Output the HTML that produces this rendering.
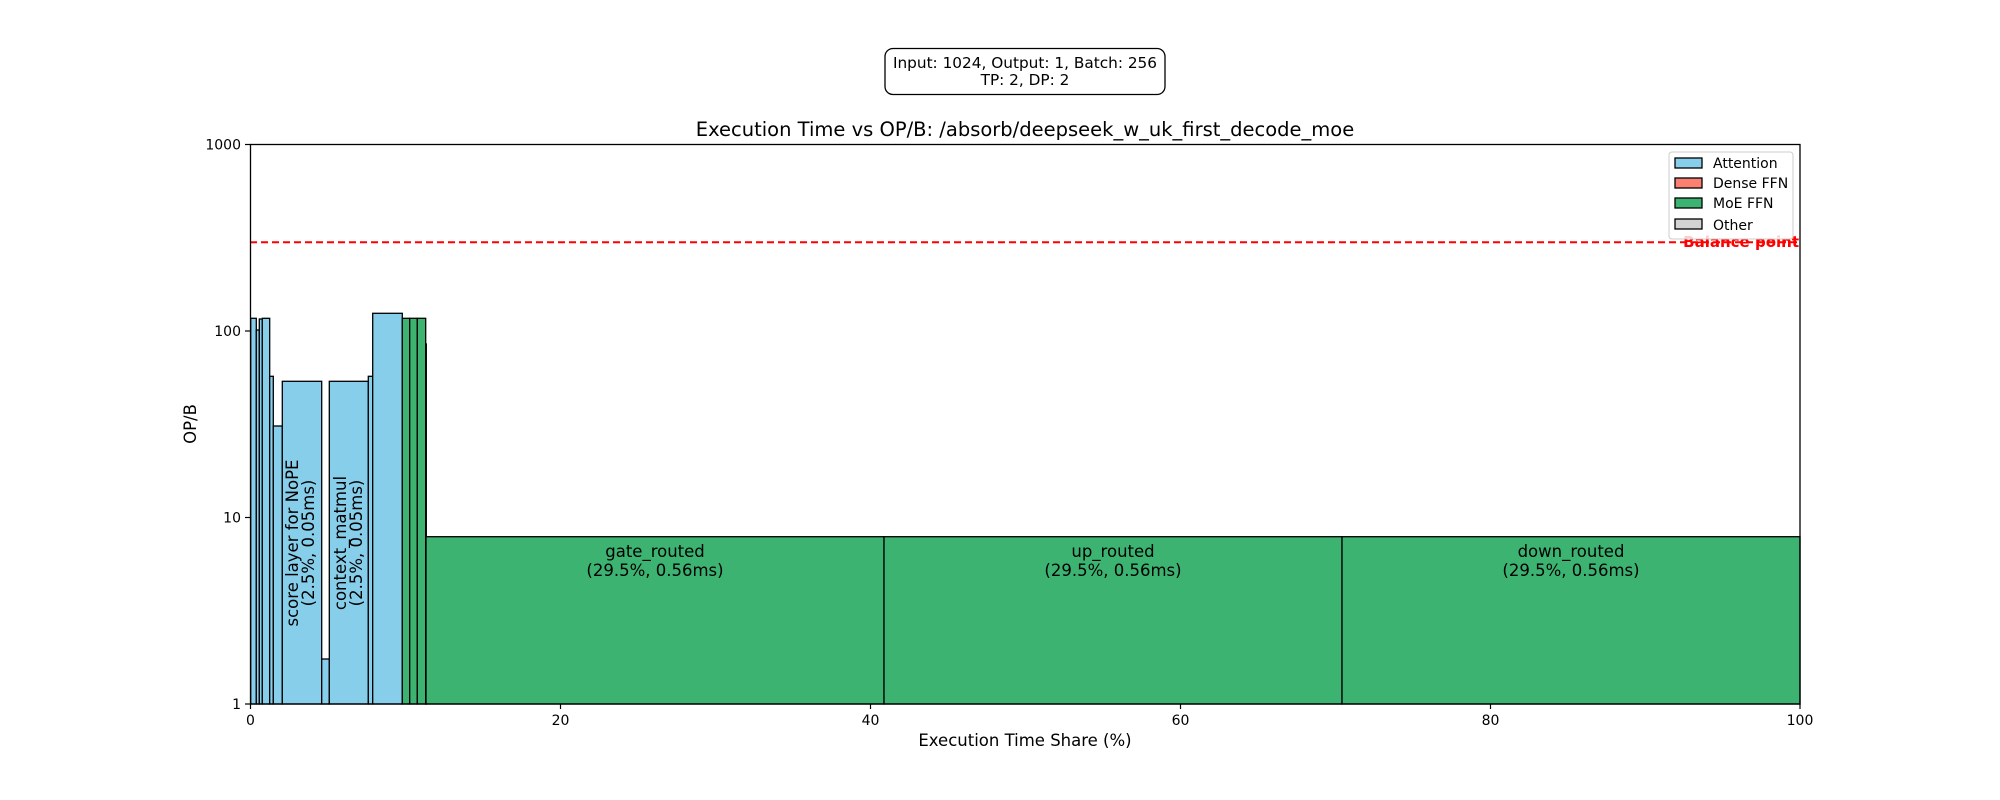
<!DOCTYPE html>
<html><head><meta charset="utf-8"><style>html,body{margin:0;padding:0;background:#fff}svg{display:block}</style></head>
<body>
<svg width="2000" height="800" viewBox="0 0 2000 800" xmlns="http://www.w3.org/2000/svg" font-family="DejaVu Sans, Liberation Sans, sans-serif">
<rect width="2000" height="800" fill="#fff"/>
<rect x="885" y="48.5" width="280" height="46" rx="8" fill="#fff" stroke="#000" stroke-width="1.3"/>
<text x="1025" y="68" font-size="15.3" text-anchor="middle">Input: 1024, Output: 1, Batch: 256</text>
<text x="1025" y="85" font-size="15.3" text-anchor="middle">TP: 2, DP: 2</text>
<text x="1025" y="136" font-size="19.5" text-anchor="middle">Execution Time vs OP/B: /absorb/deepseek_w_uk_first_decode_moe</text>
<g stroke="#000" stroke-width="1.3">
<g fill="#87CEEB">
<rect x="250.7" y="318.3" width="5.6" height="385.7"/>
<rect x="256.3" y="330" width="3" height="374"/>
<rect x="259.3" y="319" width="3" height="385"/>
<rect x="262.3" y="318.3" width="7.4" height="385.7"/>
<rect x="269.7" y="376.3" width="3.6" height="327.7"/>
<rect x="273.3" y="426" width="9" height="278"/>
<rect x="282.3" y="381.3" width="39.4" height="322.7"/>
<rect x="321.7" y="659" width="7.6" height="45"/>
<rect x="329.3" y="381.3" width="39" height="322.7"/>
<rect x="368.3" y="376.3" width="4.4" height="327.7"/>
<rect x="372.7" y="313.3" width="29.6" height="390.7"/>
</g>
<g fill="#3CB371">
<rect x="402.3" y="318.3" width="7.4" height="385.7"/>
<rect x="409.7" y="318.3" width="7.6" height="385.7"/>
<rect x="417.3" y="318.3" width="8.4" height="385.7"/>
<rect x="425.7" y="344" width="0.6" height="360"/>
<rect x="426" y="536.7" width="458" height="167.3"/>
<rect x="884" y="536.7" width="458" height="167.3"/>
<rect x="1342" y="536.7" width="458" height="167.3"/>
</g>
</g>
<g font-size="16.5" text-anchor="middle">
<text transform="translate(298,543) rotate(-90)"><tspan x="0" y="0">score layer for NoPE</tspan><tspan x="0" y="16">(2.5%, 0.05ms)</tspan></text>
<text transform="translate(346,543) rotate(-90)"><tspan x="0" y="0">context_matmul</tspan><tspan x="0" y="16">(2.5%, 0.05ms)</tspan></text>
<text x="655" y="557">gate_routed</text><text x="655" y="576">(29.5%, 0.56ms)</text>
<text x="1113" y="557">up_routed</text><text x="1113" y="576">(29.5%, 0.56ms)</text>
<text x="1571" y="557">down_routed</text><text x="1571" y="576">(29.5%, 0.56ms)</text>
</g>
<line x1="250" y1="242.3" x2="1800" y2="242.3" stroke="#f00" stroke-width="2" stroke-dasharray="7,4"/>
<text x="1799" y="247" font-size="15" font-weight="bold" fill="#f00" text-anchor="end">Balance point</text>
<rect x="1669" y="152" width="124" height="87" rx="3" fill="#fff" fill-opacity="0.8" stroke="#ccc" stroke-width="1"/>
<g stroke="#000" stroke-width="1.3">
<rect x="1675" y="158" width="27" height="10" fill="#87CEEB"/>
<rect x="1675" y="178" width="27" height="10" fill="#FA8072"/>
<rect x="1675" y="198" width="27" height="10" fill="#3CB371"/>
<rect x="1675" y="219" width="27" height="10" fill="#D3D3D3"/>
</g>
<g font-size="14">
<text x="1713" y="168">Attention</text>
<text x="1713" y="188">Dense FFN</text>
<text x="1713" y="208">MoE FFN</text>
<text x="1713" y="230">Other</text>
</g>
<rect x="250.5" y="144.5" width="1549.5" height="559.5" fill="none" stroke="#000" stroke-width="1.3"/>
<g stroke="#000" stroke-width="1.2">
<line x1="245" y1="144.5" x2="250.5" y2="144.5"/>
<line x1="245" y1="331" x2="250.5" y2="331"/>
<line x1="245" y1="517.5" x2="250.5" y2="517.5"/>
<line x1="245" y1="704" x2="250.5" y2="704"/>
<line x1="250.5" y1="704" x2="250.5" y2="709"/>
<line x1="560.5" y1="704" x2="560.5" y2="709"/>
<line x1="870.5" y1="704" x2="870.5" y2="709"/>
<line x1="1180.5" y1="704" x2="1180.5" y2="709"/>
<line x1="1490.5" y1="704" x2="1490.5" y2="709"/>
<line x1="1800" y1="704" x2="1800" y2="709"/>
</g>
<g font-size="14" text-anchor="end">
<text x="241" y="149.5">1000</text>
<text x="241" y="336">100</text>
<text x="241" y="522.5">10</text>
<text x="241" y="709">1</text>
</g>
<g font-size="14" text-anchor="middle">
<text x="250.5" y="725">0</text>
<text x="560.5" y="725">20</text>
<text x="870.5" y="725">40</text>
<text x="1180.5" y="725">60</text>
<text x="1490.5" y="725">80</text>
<text x="1800" y="725">100</text>
</g>
<text x="1025" y="746" font-size="16.5" text-anchor="middle">Execution Time Share (%)</text>
<text transform="translate(196,424) rotate(-90)" font-size="16.5" text-anchor="middle">OP/B</text>
</svg>
</body></html>
